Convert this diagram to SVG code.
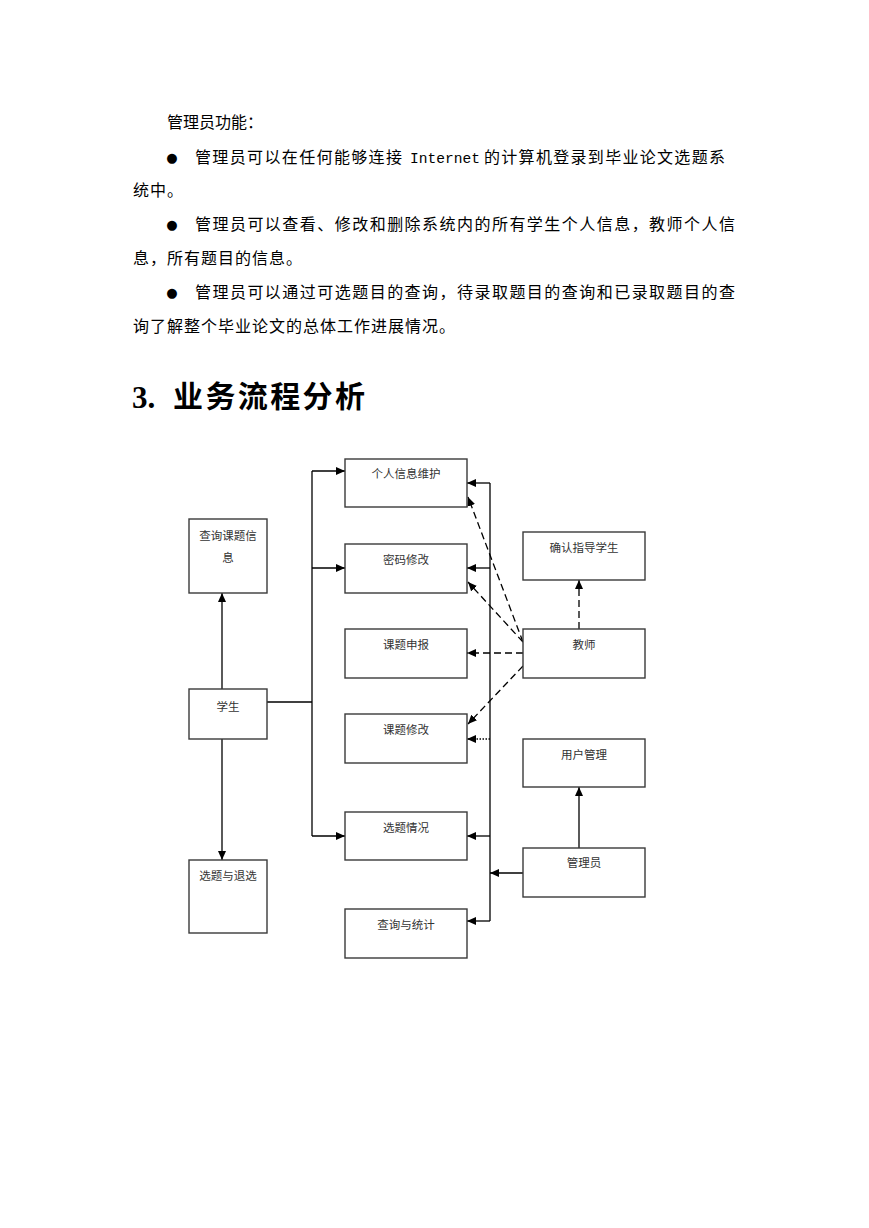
<svg xmlns="http://www.w3.org/2000/svg" width="869" height="1228" viewBox="0 0 869 1228">
<defs>
<marker id="ah" markerUnits="userSpaceOnUse" markerWidth="9" markerHeight="8" refX="9" refY="4" orient="auto">
<path d="M0,0 L9,4 L0,8 z" fill="#000"/>
</marker>
<style>
.body{font-family:"Noto Sans CJK SC","Noto Sans",sans-serif;font-size:16px;fill:#000}
.cont{letter-spacing:1px}
.mono{font-family:"Liberation Mono",monospace;font-size:15px;fill:#000}
.bul{font-family:"DejaVu Sans",sans-serif;font-size:13px;fill:#000}
.h{font-family:"Noto Sans CJK SC",sans-serif;font-size:30px;font-weight:bold;fill:#000}
.h3{font-family:"Liberation Serif",serif;font-size:31px;font-weight:bold;fill:#000}
.box{fill:#fff;stroke:#3a3a3a;stroke-width:1.4}
.lbl{font-family:"Noto Sans CJK SC",sans-serif;font-size:11.5px;fill:#333;text-anchor:middle}
.ln{fill:none;stroke:#000;stroke-width:1.3}
.ar{marker-end:url(#ah)}
.da{stroke-dasharray:7,4}
.dot{stroke-dasharray:1.5,1.5}
</style>
</defs>
<rect width="869" height="1228" fill="#fff"/>
<g id="text">
<text class="body" x="167" y="128">管理员功能：</text>
<text class="bul" x="172" y="162" text-anchor="middle">●</text>
<text class="body" x="195" y="163" textLength="207" lengthAdjust="spacing">管理员可以在任何能够连接</text>
<text class="mono" x="410" y="163" textLength="70" lengthAdjust="spacingAndGlyphs">Internet</text>
<text class="body" x="484" y="163" textLength="241" lengthAdjust="spacing">的计算机登录到毕业论文选题系</text>
<text class="body cont" x="133" y="196">统中。</text>
<text class="bul" x="172" y="229" text-anchor="middle">●</text>
<text class="body" x="195" y="230" textLength="540" lengthAdjust="spacing">管理员可以查看、修改和删除系统内的所有学生个人信息，教师个人信</text>
<text class="body cont" x="133" y="264">息，所有题目的信息。</text>
<text class="bul" x="172" y="297" text-anchor="middle">●</text>
<text class="body" x="195" y="298" textLength="540" lengthAdjust="spacing">管理员可以通过可选题目的查询，待录取题目的查询和已录取题目的查</text>
<text class="body cont" x="133" y="332">询了解整个毕业论文的总体工作进展情况。</text>
<text class="h3" x="132" y="408">3.</text>
<text class="h" x="173" y="407" textLength="192" lengthAdjust="spacing">业务流程分析</text>
</g>
<g id="connectors">
<!-- student -->
<line class="ln ar" x1="222" y1="689" x2="222" y2="593"/>
<line class="ln ar" x1="222" y1="739" x2="222" y2="860"/>
<polyline class="ln" points="267,702 312,702"/>
<line class="ln" x1="312" y1="471" x2="312" y2="836"/>
<line class="ln ar" x1="312" y1="471" x2="345" y2="471"/>
<line class="ln ar" x1="312" y1="568" x2="345" y2="568"/>
<line class="ln ar" x1="312" y1="836" x2="345" y2="836"/>
<!-- admin bus -->
<line class="ln" x1="490" y1="483" x2="490" y2="921"/>
<line class="ln ar" x1="490" y1="483" x2="467" y2="483"/>
<line class="ln ar" x1="490" y1="568" x2="467" y2="568"/>
<line class="ln ar" x1="490" y1="836" x2="467" y2="836"/>
<line class="ln ar" x1="490" y1="921" x2="467" y2="921"/>
<line class="ln ar" x1="523" y1="873" x2="490" y2="873"/>
<line class="ln ar" x1="579" y1="848" x2="579" y2="787"/>
<line class="ln dot ar" x1="490" y1="739" x2="467" y2="739"/>
<!-- teacher -->
<line class="ln da ar" x1="579" y1="629" x2="579" y2="580"/>
<line class="ln da ar" x1="523" y1="642" x2="468" y2="497"/>
<line class="ln da ar" x1="523" y1="642" x2="468" y2="582"/>
<line class="ln da ar" x1="523" y1="653" x2="467" y2="653"/>
<line class="ln da ar" x1="523" y1="666" x2="468" y2="724"/>
</g>
<g id="n-grxx"><rect class="box" x="345" y="459" width="122" height="48"/><text class="lbl" x="406" y="478">个人信息维护</text></g>
<g id="n-mmxg"><rect class="box" x="345" y="544" width="122" height="49"/><text class="lbl" x="406" y="564">密码修改</text></g>
<g id="n-ktsb"><rect class="box" x="345" y="629" width="122" height="49"/><text class="lbl" x="406" y="649">课题申报</text></g>
<g id="n-ktxg"><rect class="box" x="345" y="714" width="122" height="49"/><text class="lbl" x="406" y="734">课题修改</text></g>
<g id="n-xtqk"><rect class="box" x="345" y="812" width="122" height="48"/><text class="lbl" x="406" y="832">选题情况</text></g>
<g id="n-cxtj"><rect class="box" x="345" y="909" width="122" height="49"/><text class="lbl" x="406" y="929">查询与统计</text></g>
<g id="n-cxkt"><rect class="box" x="189" y="519" width="78" height="74"/><text class="lbl" x="228" y="540">查询课题信</text><text class="lbl" x="228" y="562">息</text></g>
<g id="n-xs"><rect class="box" x="189" y="689" width="78" height="50"/><text class="lbl" x="228" y="711">学生</text></g>
<g id="n-xttx"><rect class="box" x="189" y="860" width="78" height="73"/><text class="lbl" x="228" y="880">选题与退选</text></g>
<g id="n-qrzd"><rect class="box" x="523" y="532" width="122" height="48"/><text class="lbl" x="584" y="552">确认指导学生</text></g>
<g id="n-js"><rect class="box" x="523" y="629" width="122" height="49"/><text class="lbl" x="584" y="649">教师</text></g>
<g id="n-yhgl"><rect class="box" x="523" y="739" width="122" height="48"/><text class="lbl" x="584" y="759">用户管理</text></g>
<g id="n-gly"><rect class="box" x="523" y="848" width="122" height="49"/><text class="lbl" x="584" y="867">管理员</text></g>
</svg>
